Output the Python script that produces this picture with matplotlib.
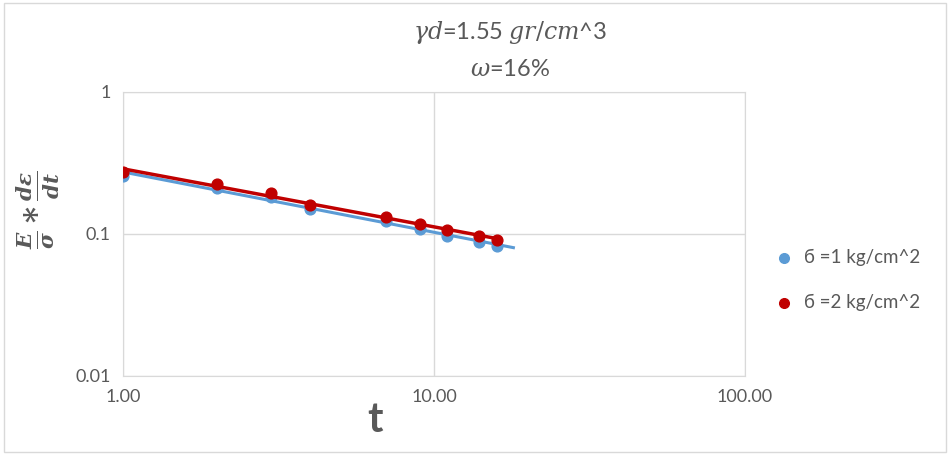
import numpy as np
import matplotlib.pyplot as plt

plt.rcParams['font.family'] = ['Lato', 'DejaVu Sans']
plt.rcParams['mathtext.fontset'] = 'custom'
plt.rcParams['mathtext.it'] = 'DejaVu Serif:italic'
plt.rcParams['mathtext.rm'] = 'DejaVu Serif'
plt.rcParams['mathtext.bf'] = 'DejaVu Serif:italic:bold'

# creep rate data, two loads
t = [1, 2, 3, 4, 7, 9, 11, 14, 16]
rate_1 = [0.256, 0.211, 0.182, 0.150, 0.124, 0.108, 0.097, 0.088, 0.082]
rate_2 = [0.274, 0.224, 0.193, 0.160, 0.132, 0.118, 0.107, 0.097, 0.091]
labels = ["б =1 kg/cm^2", "б =2 kg/cm^2"]
colors = ["#5B9BD5", "#C00000"]
gray = "#595959"

fig = plt.figure(figsize=(9.5, 4.55), dpi=100)
ax = fig.add_axes([123/950, 1-376/455, (745-123)/950, (376-92)/455])

def power_fit(x, y, x_end):
    b, a = np.polyfit(np.log(x), np.log(y), 1)
    xs = np.linspace(x[0], x_end, 50)
    return xs, np.exp(a) * xs**b

for i, (y, c, lab, xe) in enumerate(zip([rate_1, rate_2], colors, labels, [18.2, 16.5])):
    ax.scatter(t, y, s=60, color=c, zorder=3, label=lab)
    xs, ys = power_fit(t, y, xe)
    ax.plot(xs, ys, color=c, lw=2.5 if i else 2.2, zorder=4 if i else 2,
            solid_capstyle='butt')

ax.set_xscale('log')
ax.set_yscale('log')
ax.set_xlim(1, 100)
ax.set_ylim(0.01, 1)
ax.set_xticks([1, 10, 100])
ax.set_xticklabels(["1.00", "10.00", "100.00"])
ax.set_yticks([0.01, 0.1, 1])
ax.set_yticklabels(["0.01", "0.1", "1"])
ax.minorticks_off()
ax.tick_params(length=0, labelsize=13, colors=gray, pad=9)
ax.grid(True, color="#D9D9D9", lw=1)
for s in ax.spines.values():
    s.set_color("#D9D9D9")

fig.text(375/950, 1-420/455, "t", ha='center', va='center', fontsize=30,
         fontweight='bold', color=gray)
fig.text(38/950, 1-210/455, r"$\mathbf{\frac{E}{\sigma}*\frac{d\varepsilon}{dt}}$",
         fontsize=22, color=gray, rotation=90, ha='center', va='center')

fig.text(510/950, 1-33/455, r"$\gamma d$=1.55 $gr/cm$^3", ha='center', va='center',
         fontsize=17, color=gray)
fig.text(510/950, 1-70/455, r"$\omega$=16%", ha='center', va='center',
         fontsize=17, color=gray)

leg = fig.legend(loc='center left', bbox_to_anchor=(748/950, 1-280/455), frameon=False,
                 fontsize=13.5, handletextpad=0.1, labelspacing=1.5, markerscale=0.9)
for txt in leg.get_texts():
    txt.set_color(gray)

border = plt.Rectangle((0.004, 0.006), 0.992, 0.988, transform=fig.transFigure,
                       fill=False, edgecolor="#D9D9D9", lw=1)
fig.add_artist(border)

fig.savefig("out.png", dpi=100)
